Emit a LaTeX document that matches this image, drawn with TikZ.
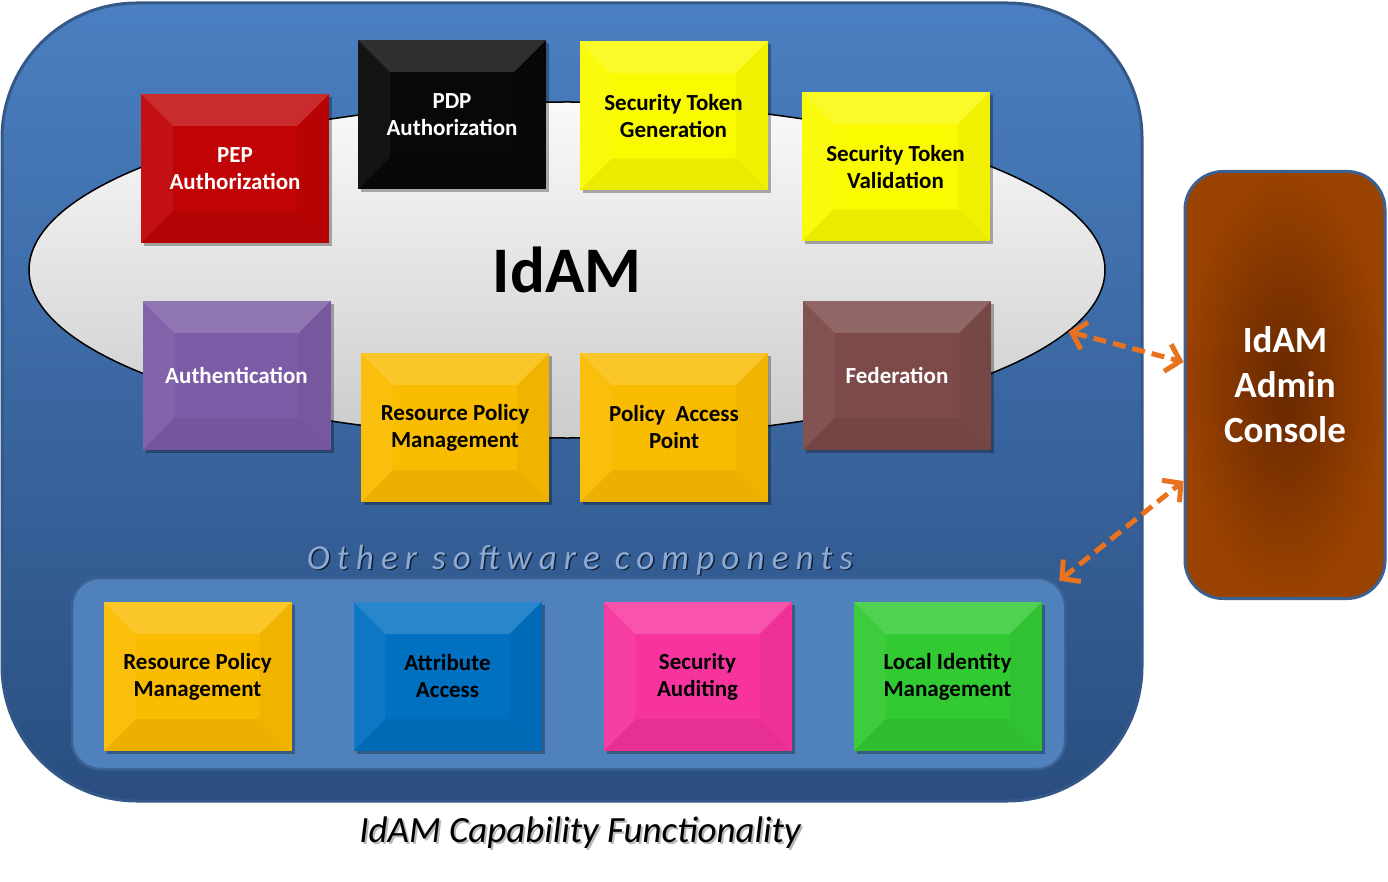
\documentclass[tikz,border=0pt]{standalone}
\usepackage{fontspec}
\setmainfont{Carlito}
\newfontfamily\spacedfont[LetterSpace=20.5]{Carlito}
\usetikzlibrary{shapes.geometric,shadows,arrows.meta,calc}
\definecolor{bigtop}{RGB}{74,127,193}
\definecolor{bigbot}{RGB}{42,78,128}
\definecolor{frameblue}{RGB}{52,88,136}
\definecolor{panelblue}{RGB}{79,129,189}
\definecolor{panelframe}{RGB}{60,98,148}
\definecolor{lblblue}{RGB}{140,170,212}
\definecolor{cred}{RGB}{192,4,6}
\definecolor{cblack}{RGB}{8,8,8}
\definecolor{cyellow}{RGB}{250,250,0}
\definecolor{cpurple}{RGB}{124,92,166}
\definecolor{cgold}{RGB}{250,188,0}
\definecolor{cbrown}{RGB}{124,74,72}
\definecolor{cblue}{RGB}{0,112,192}
\definecolor{cpink}{RGB}{247,52,158}
\definecolor{cgreen}{RGB}{50,202,50}
\definecolor{adminin}{RGB}{104,40,0}
\definecolor{adminout}{RGB}{154,66,0}
\definecolor{adminframe}{RGB}{60,96,144}
\definecolor{arroworange}{RGB}{232,114,30}
\tikzset{
  bevelbox/.style n args={2}{rectangle, minimum width=188pt, minimum height=149pt,
    inner sep=0pt, fill=#1, text=#2, align=center,
    font=\bfseries\fontsize{23}{27}\selectfont,
    drop shadow={shadow xshift=3pt, shadow yshift=-3pt, opacity=0.3, fill=black},
    path picture={
      \fill[white,opacity=0.16] (path picture bounding box.north west) -- (path picture bounding box.north east)
        -- ($(path picture bounding box.north east)+(-32,32)$) -- ($(path picture bounding box.north west)+(32,32)$) -- cycle;
      \fill[white,opacity=0.05] (path picture bounding box.north west) -- ($(path picture bounding box.north west)+(32,32)$)
        -- ($(path picture bounding box.south west)+(32,-32)$) -- (path picture bounding box.south west) -- cycle;
      \fill[black,opacity=0.04] (path picture bounding box.north east) -- ($(path picture bounding box.north east)+(-32,32)$)
        -- ($(path picture bounding box.south east)+(-32,-32)$) -- (path picture bounding box.south east) -- cycle;
      \fill[black,opacity=0.06] (path picture bounding box.south west) -- ($(path picture bounding box.south west)+(32,-32)$)
        -- ($(path picture bounding box.south east)+(-32,-32)$) -- (path picture bounding box.south east) -- cycle;
    }},
  conn/.style={draw=arroworange, line width=5pt, dash pattern=on 13pt off 7pt,
    {Straight Barb[length=13pt,width=28pt,line width=5pt]}-{Straight Barb[length=13pt,width=28pt,line width=5pt]}}
}
\begin{document}
\begin{tikzpicture}[x=1pt,y=-1pt]
\useasboundingbox (0,0) rectangle (1388,882);
% main capability frame
\node[draw=frameblue, line width=3pt, rounded corners=135pt, minimum width=1140pt, minimum height=798pt,
  top color=bigtop, bottom color=bigbot, inner sep=0pt] (cap) at (572,402) {};
% IdAM ellipse
\node[ellipse, draw=black, line width=1.5pt, minimum width=1076pt, minimum height=336pt, inner sep=0pt,
  top color=white!96!gray, bottom color=gray!40, font=\bfseries\fontsize{65}{70}\selectfont] (idam) at (567,270) {IdAM};
% IdAM boxes
\node[bevelbox={cred}{white}] (pep) at (235,168.5) {PEP\\Authorization};
\node[bevelbox={cblack}{white}] (pdp) at (452,114.5) {PDP\\Authorization};
\node[bevelbox={cyellow}{black}] (stg) at (673.5,116) {Security Token\\Generation};
\node[bevelbox={cyellow}{black}] (stv) at (895.5,167) {Security Token\\Validation};
\node[bevelbox={cpurple}{white}] (authn) at (236.5,375.5) {Authentication};
\node[bevelbox={cgold}{black}] (rpm) at (455,427.5) {Resource Policy\\Management};
\node[bevelbox={cgold}{black}] (pap) at (674,427.5) {Policy\ \ Access\\Point};
\node[bevelbox={cbrown}{white}] (fed) at (897,375.5) {Federation};
% other software components
\node[text=black!60!bigbot, font=\spacedfont\itshape\fontsize{35}{40}\selectfont] (otherlblsh) at (581.5,561.5) {Other software components};
\node[text=lblblue, font=\spacedfont\itshape\fontsize{35}{40}\selectfont] (otherlbl) at (580,560) {Other software components};
\node[draw=panelframe, line width=2.5pt, fill=panelblue, rounded corners=28pt, minimum width=993pt, minimum height=191pt, inner sep=0pt] (other) at (568.5,673.5) {};
\node[bevelbox={cgold}{black}] (rpm2) at (197.5,676.5) {Resource Policy\\Management};
\node[bevelbox={cblue}{black}] (attr) at (447.5,676.5) {Attribute\\Access};
\node[bevelbox={cpink}{black}] (audit) at (697.5,676.5) {Security\\Auditing};
\node[bevelbox={cgreen}{black}] (lidm) at (947.5,676.5) {Local Identity\\Management};
% admin console
\node[draw=adminframe, line width=3pt, rounded corners=38pt, minimum width=200pt, minimum height=427pt, inner sep=0pt,
  inner color=adminin, outer color=adminout, text=white, align=center,
  font=\bfseries\fontsize{37}{45}\selectfont] (admin) at (1285,385) {IdAM\\Admin\\Console};
% connectors
\draw[conn] (idam.-7.3) -- ([yshift=23pt]admin.west);
\draw[conn] ([xshift=-7pt,yshift=-4pt]other.north east) -- ([yshift=-96pt]admin.west);
% caption
\node[text=black!28, font=\itshape\fontsize{37}{40}\selectfont] (captionsh) at (582,835) {IdAM Capability Functionality};
\node[text=black, font=\itshape\fontsize{37}{40}\selectfont] (caption) at (580,833) {IdAM Capability Functionality};
\end{tikzpicture}
\end{document}
